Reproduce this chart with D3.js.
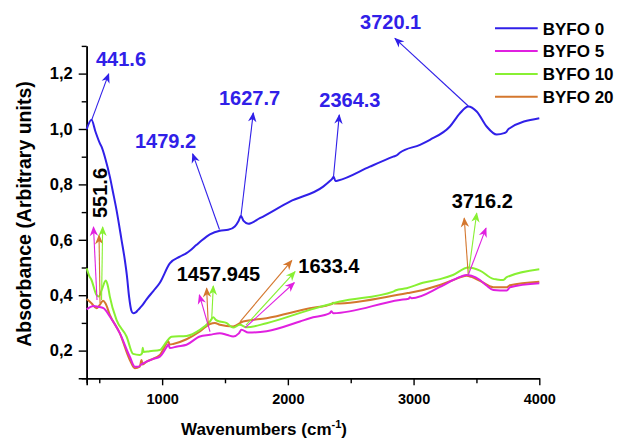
<!DOCTYPE html>
<html>
<head>
<meta charset="utf-8">
<script src="https://cdn.jsdelivr.net/npm/d3@7"></script>
<style>
  html, body { margin: 0; padding: 0; background: #fff; }
  svg { display: block; font-family: "Liberation Sans", Arial, sans-serif; font-weight: bold; }
</style>
</head>
<body>
<svg id="chart" width="620" height="440"></svg>
<script>
// FTIR spectra: [wavenumber (cm-1), absorbance]
const byfo0 = [
  [400,0.999],[438,1.033],[470,0.99],[504,0.949],[518,0.936],[550,0.89],[584,0.828],[610,0.77],
  [637,0.708],[677,0.600],[703,0.528],[720,0.47],[737,0.395],[755,0.345],[769,0.335],[790,0.338],
  [809,0.347],[840,0.362],[876,0.385],[930,0.415],[982,0.445],[1061,0.515],[1141,0.539],[1194,0.552],
  [1274,0.582],[1300,0.592],[1380,0.620],[1459,0.633],[1525,0.636],[1578,0.648],[1608,0.668],
  [1627,0.686],[1648,0.668],[1685,0.658],[1777,0.678],[2016,0.738],[2281,0.792],[2334,0.812],
  [2352,0.820],[2364,0.828],[2378,0.812],[2400,0.814],[2652,0.864],[2838,0.900],[2870,0.906],
  [2890,0.914],[3051,0.943],[3130,0.961],[3289,1.009],[3369,1.057],[3435,1.081],[3502,1.063],
  [3581,1.009],[3661,0.980],[3720,0.985],[3735,0.988],[3755,1.000],[4000,1.039]
];
const byfo5 = [
  [400,0.349],[454,0.361],[490,0.358],[533,0.353],[584,0.323],[663,0.263],[743,0.178],[783,0.142],
  [809,0.142],[840,0.152],[876,0.160],[930,0.170],[982,0.178],[1035,0.212],[1050,0.222],[1061,0.209],
  [1120,0.215],[1194,0.221],[1300,0.251],[1380,0.257],[1459,0.263],[1520,0.256],[1565,0.251],
  [1610,0.262],[1631,0.275],[1685,0.265],[1831,0.270],[2096,0.305],[2175,0.317],[2334,0.335],
  [2345,0.342],[2361,0.335],[2891,0.383],[2960,0.387],[2971,0.393],[2985,0.389],[3210,0.430],
  [3316,0.455],[3380,0.468],[3422,0.473],[3460,0.470],[3528,0.455],[3580,0.435],[3634,0.419],
  [3741,0.417],[3767,0.429],[4000,0.443]
];
const byfo10 = [
  [400,0.497],[420,0.470],[438,0.455],[478,0.401],[496,0.395],[520,0.420],[552,0.453],[570,0.430],
  [584,0.395],[637,0.311],[717,0.251],[769,0.188],[822,0.184],[840,0.190],[846,0.210],[852,0.195],
  [900,0.198],[982,0.202],[1035,0.232],[1075,0.250],[1194,0.253],[1300,0.275],[1380,0.305],
  [1406,0.320],[1430,0.310],[1459,0.305],[1510,0.300],[1565,0.283],[1618,0.293],[1672,0.284],
  [1831,0.299],[2175,0.347],[2414,0.377],[2838,0.413],[2860,0.418],[2944,0.425],[3074,0.445],
  [3210,0.458],[3313,0.473],[3435,0.500],[3528,0.489],[3634,0.459],[3662,0.457],[3714,0.455],
  [3741,0.465],[4000,0.494]
];
const byfo20 = [
  [400,0.386],[438,0.371],[478,0.353],[504,0.365],[530,0.380],[550,0.370],[584,0.329],[663,0.263],
  [743,0.166],[783,0.136],[822,0.142],[836,0.166],[845,0.150],[876,0.160],[982,0.184],[1035,0.227],
  [1048,0.235],[1060,0.222],[1088,0.224],[1194,0.241],[1300,0.269],[1380,0.296],[1420,0.300],
  [1459,0.293],[1565,0.287],[1644,0.305],[1831,0.317],[2175,0.353],[2350,0.368],[2361,0.373],
  [2375,0.370],[2944,0.407],[2971,0.409],[3210,0.437],[3316,0.455],[3422,0.470],[3460,0.466],
  [3528,0.452],[3634,0.429],[3741,0.429],[3767,0.436],[4000,0.449]
];

const seriesNames = ["BYFO 0", "BYFO 5", "BYFO 10", "BYFO 20"];
const seriesData = [byfo0, byfo5, byfo10, byfo20];
const seriesColors = ["#3020e8", "#e020e0", "#88f032", "#d4772e"];

const xTicks = [1000, 2000, 3000, 4000];
const xMinorTicks = [500, 1500, 2500, 3500];
const yTicks = [0.2, 0.4, 0.6, 0.8, 1.0, 1.2];
const yMinorTicks = [0.3, 0.5, 0.7, 0.9, 1.1, 1.3];

// Peak call-outs: series index, arrow tail [wn, abs], arrow tip [wn, abs]
const peakArrows = [
  [0, [440, 1.033], [575, 1.199]],
  [0, [1456, 0.637], [1243, 0.910]],
  [0, [1627, 0.686], [1725, 1.058]],
  [0, [2362, 0.822], [2409, 1.051]],
  [0, [3435, 1.083], [2852, 1.327]],
  [1, [482, 0.383], [454, 0.646]],
  [3, [506, 0.372], [498, 0.616]],
  [2, [518, 0.383], [527, 0.646]],
  [1, [1381, 0.268], [1296, 0.401]],
  [3, [1367, 0.292], [1354, 0.425]],
  [2, [1394, 0.311], [1407, 0.433]],
  [3, [1619, 0.304], [2031, 0.525]],
  [2, [1667, 0.292], [2057, 0.485]],
  [1, [1659, 0.282], [2051, 0.445]],
  [3, [3435, 0.473], [3403, 0.678]],
  [2, [3435, 0.473], [3502, 0.696]],
  [1, [3435, 0.473], [3576, 0.642]]
];
// Peak labels: text, colour, anchor [wn, abs], rotated
const peakLabels = [
  ["441.6", "#3020e8", [474, 1.228], false],
  ["1479.2", "#3020e8", [784, 0.932], false],
  ["1627.7", "#3020e8", [1452, 1.087], false],
  ["2364.3", "#3020e8", [2250, 1.078], false],
  ["3720.1", "#3020e8", [2574, 1.361], false],
  ["551.6", "#000", [561, 0.769], true],
  ["1457.945", "#000", [1116, 0.451], false],
  ["1633.4", "#000", [2083, 0.479], false],
  ["3716.2", "#000", [3303, 0.716], false]
];

const svg = d3.select("#chart");
const x = d3.scaleLinear().domain([400, 4000]).range([86.7, 539.3]);
const y = d3.scaleLinear().domain([0.1, 1.3]).range([378.3, 45.9]);

// arrowhead markers, one per series colour
const defs = svg.append("defs");
seriesColors.forEach((c, i) => {
  defs.append("marker")
    .attr("id", "head" + i)
    .attr("viewBox", "-10 -5 12 10")
    .attr("refX", 0).attr("refY", 0)
    .attr("markerWidth", 12).attr("markerHeight", 10)
    .attr("markerUnits", "userSpaceOnUse")
    .attr("orient", "auto")
    .append("path")
    .attr("d", "M1,0 L-9,-4.2 L-6,0 L-9,4.2 Z")
    .attr("fill", c);
});

// axes
const xAxis = svg.append("g").attr("transform", `translate(0,${y(0.1)})`)
  .call(d3.axisBottom(x).tickValues(xTicks).tickSize(7).tickPadding(8).tickFormat(d3.format("d")));
svg.append("g").attr("transform", `translate(0,${y(0.1)})`)
  .call(d3.axisBottom(x).tickValues(xMinorTicks).tickSize(5).tickFormat(""));
const yAxis = svg.append("g").attr("transform", `translate(${x(400)},0)`)
  .call(d3.axisLeft(y).tickValues(yTicks).tickSize(8).tickPadding(6).tickFormat(d => d3.format(".1f")(d).replace(".", ",")));
svg.append("g").attr("transform", `translate(${x(400)},0)`)
  .call(d3.axisLeft(y).tickValues(yMinorTicks).tickSize(5).tickFormat(""));

svg.selectAll(".domain").attr("stroke", "#000").attr("stroke-width", 1.6);
svg.selectAll(".tick line").attr("stroke", "#000").attr("stroke-width", 1.4);
xAxis.selectAll(".tick text").attr("font-size", 14.5).attr("font-weight", "bold")
  .attr("font-family", "Liberation Sans, Arial, sans-serif").attr("fill", "#000");
yAxis.selectAll(".tick text").attr("font-size", 16.5).attr("font-weight", "bold")
  .attr("font-family", "Liberation Sans, Arial, sans-serif").attr("fill", "#000");
// clear the path end caps d3 draws at the domain ends
svg.selectAll(".domain").attr("d", function () { return d3.select(this).attr("d").replace(/V6|H-6|V5|H-5|V7|H-7|V8|H-8/g, ""); });

// axis titles
const xTitle = svg.append("text").attr("x", 264).attr("y", 435).attr("text-anchor", "middle")
  .attr("font-size", 17).attr("fill", "#000");
xTitle.append("tspan").text("Wavenumbers (cm");
xTitle.append("tspan").attr("font-size", 11).attr("dy", -7).text("-1");
xTitle.append("tspan").attr("dy", 7).text(")");

svg.append("text").attr("transform", "translate(31,214) rotate(-90)").attr("text-anchor", "middle")
  .attr("font-size", 19.5).attr("fill", "#000").text("Absorbance (Arbitrary units)");

// spectra
const line = d3.line().x(d => x(d[0])).y(d => y(d[1])).curve(d3.curveMonotoneX);
const drawOrder = [3, 2, 1, 0];
drawOrder.forEach(i => {
  svg.append("path").datum(seriesData[i])
    .attr("fill", "none").attr("stroke", seriesColors[i]).attr("stroke-width", 2)
    .attr("stroke-linejoin", "round").attr("d", line);
});

// call-out arrows
peakArrows.forEach(([s, a, b]) => {
  svg.append("line")
    .attr("x1", x(a[0])).attr("y1", y(a[1]))
    .attr("x2", x(b[0])).attr("y2", y(b[1]))
    .attr("stroke", seriesColors[s]).attr("stroke-width", 1.1)
    .attr("marker-end", `url(#head${s})`);
});

// peak labels
peakLabels.forEach(([t, c, p, rot]) => {
  const el = svg.append("text").attr("font-size", 20).attr("fill", c).text(t);
  if (rot) {
    el.attr("text-anchor", "middle").attr("transform", `translate(${x(p[0])},${y(p[1])}) rotate(-90)`);
  } else {
    el.attr("x", x(p[0])).attr("y", y(p[1]));
  }
});

// legend
const legend = svg.append("g");
seriesNames.forEach((n, i) => {
  const ly = 28.3 + i * 22.8;
  legend.append("line").attr("x1", 495).attr("x2", 537.7).attr("y1", ly).attr("y2", ly)
    .attr("stroke", seriesColors[i]).attr("stroke-width", 2);
  legend.append("text").attr("x", 542.7).attr("y", ly + 6.2)
    .attr("font-size", 17).attr("fill", "#000").text(n);
});
</script>
</body>
</html>
